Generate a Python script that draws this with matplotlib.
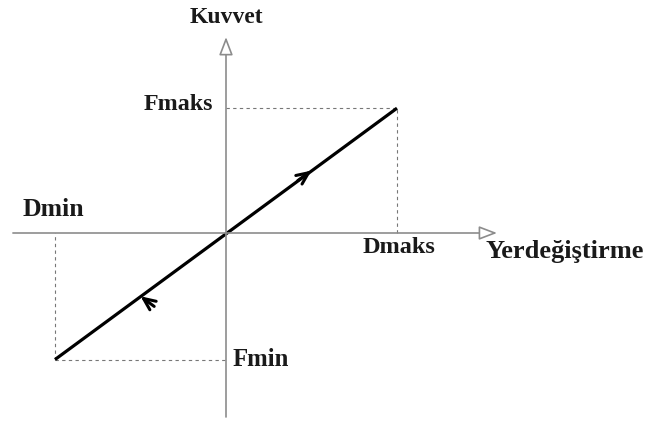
import matplotlib
matplotlib.use("Agg")
import matplotlib.pyplot as plt

# schematic values (units: Dmaks = 1)
d_values = [-1.0, 1.0]      # Dmin, Dmaks
f_values = [-0.74, 0.73]    # Fmin, Fmaks
labels = ["Dmin", "Dmaks", "Fmin", "Fmaks"]
axis_names = ["Yerdeğiştirme", "Kuvvet"]

d_min, d_max = d_values
f_min, f_max = f_values

plt.rcParams['font.family'] = ['Liberation Serif', 'DejaVu Serif']

fig = plt.figure(figsize=(6.46, 4.22), dpi=100)
ax = fig.add_axes([0, 0, 1, 1])
# 171 px per unit, origin at pixel (226, 233)
s = 171.0
ax.set_xlim(-226 / s, 420 / s)
ax.set_ylim(-189 / s, 233 / s)
ax.axis('off')

axis_col = '#8c8c8c'
head = '-|>,head_length=1.1,head_width=0.42'
# horizontal axis with hollow arrow head
ax.annotate('', xy=(1.585, 0), xytext=(-1.246, 0),
            arrowprops=dict(arrowstyle=head, fc='white', ec=axis_col, lw=1.2,
                            shrinkA=0, shrinkB=0))
# vertical axis
ax.annotate('', xy=(0, 1.146), xytext=(0, -1.076),
            arrowprops=dict(arrowstyle=head, fc='white', ec=axis_col, lw=1.2,
                            shrinkA=0, shrinkB=0))

# dashed guides
dash = dict(color='#777777', lw=0.8, ls=(0, (3, 3)))
ax.plot([0, d_max], [f_max, f_max], **dash)
ax.plot([d_max, d_max], [0, f_max], **dash)
ax.plot([d_min, d_min], [f_min, 0], **dash)
ax.plot([d_min, 0], [f_min, f_min], **dash)

# the force-displacement line
ax.plot([d_min, d_max], [f_min, f_max], color='black', lw=2.3, solid_capstyle='butt')

# direction arrows on the line (half way to each end)
chev = dict(arrowstyle='->,head_length=0.85,head_width=0.38',
            color='black', lw=2.2, shrinkA=0, shrinkB=0)
frac = 0.5
x1, y1 = d_max * frac, f_max * frac
ax.annotate('', xy=(x1, y1), xytext=(x1 - 0.08, y1 - 0.08 * f_max / d_max), arrowprops=chev)
x2, y2 = d_min * frac, f_min * frac
ax.annotate('', xy=(x2, y2), xytext=(x2 + 0.08, y2 - 0.08 * f_min / d_min), arrowprops=chev)

tk = dict(fontweight='bold', color='#1a1a1a')
ax.text(0, 1.263, axis_names[1], ha='center', va='center', fontsize=17, **tk)
ax.text(1.515, -0.111, axis_names[0], ha='left', va='center', fontsize=19, **tk)
ax.text(d_min - 0.187, 0.135, labels[0], ha='left', va='center', fontsize=18.5, **tk)
ax.text(d_max - 0.199, -0.082, labels[1], ha='left', va='center', fontsize=17.5, **tk)
ax.text(0.041, f_min, labels[2], ha='left', va='center', fontsize=17.8, **tk)
ax.text(-0.076, f_max + 0.02, labels[3], ha='right', va='center', fontsize=17.3, **tk)

fig.savefig('out.png', dpi=100)
